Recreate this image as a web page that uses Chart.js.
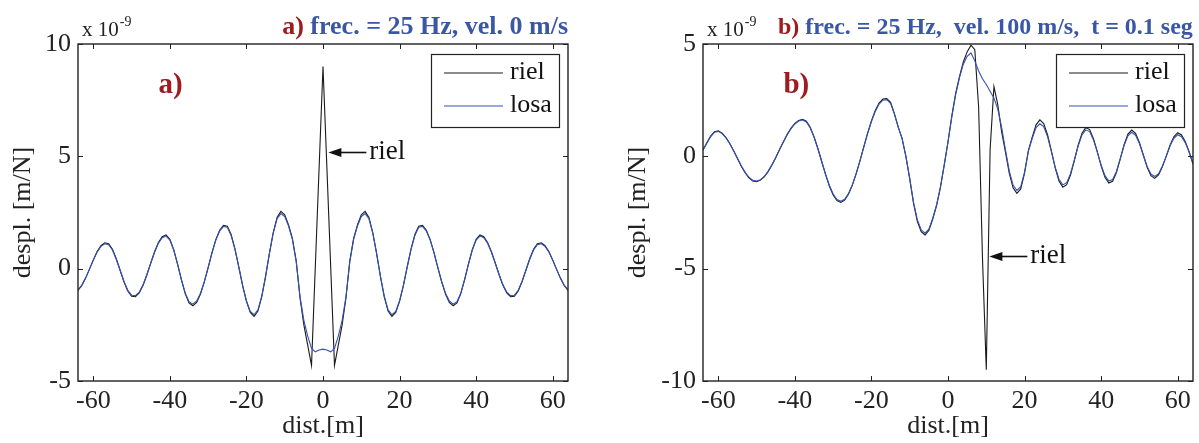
<!DOCTYPE html>
<html>
<head>
<meta charset="utf-8">
<script src="https://cdn.jsdelivr.net/npm/chart.js@4"></script>
<style>
  body { margin: 0; background: #fff; }
  .panel { position: absolute; top: 0; }
</style>
</head>
<body>
<div class="panel" style="left:0"><canvas id="chartA" width="600" height="443"></canvas></div>
<div class="panel" style="left:600px"><canvas id="chartB" width="599" height="443"></canvas></div>
<script>
"use strict";

// distance along the track [m]
const dist = [
  -64, -63, -62, -61, -60, -59, -58, -57, -56, -55,
  -54, -53, -52, -51, -50, -49, -48, -47, -46, -45,
  -44, -43, -42, -41, -40, -39, -38, -37, -36, -35,
  -34, -33, -32, -31, -30, -29, -28, -27, -26, -25,
  -24, -23, -22, -21, -20, -19, -18, -17, -16, -15,
  -14, -13, -12, -11, -10, -9, -8, -7, -6, -5,
  -4, -3, -2, -1, 0, 1, 2, 3, 4, 5,
  6, 7, 8, 9, 10, 11, 12, 13, 14, 15,
  16, 17, 18, 19, 20, 21, 22, 23, 24, 25,
  26, 27, 28, 29, 30, 31, 32, 33, 34, 35,
  36, 37, 38, 39, 40, 41, 42, 43, 44, 45,
  46, 47, 48, 49, 50, 51, 52, 53, 54, 55,
  56, 57, 58, 59, 60, 61, 62, 63, 64
];

// a) 25 Hz, 0 m/s  (x 1e-9 m/N)
const rielA = [
  -0.97, -0.75, -0.42, -0.02, 0.39, 0.76, 1.02, 1.15, 1.11, 0.86,
  0.44, -0.07, -0.58, -0.99, -1.23, -1.25, -1.08, -0.74, -0.27, 0.25,
  0.75, 1.16, 1.42, 1.5, 1.31, 0.85, 0.21, -0.49, -1.11, -1.52,
  -1.65, -1.5, -1.13, -0.59, 0.05, 0.71, 1.29, 1.71, 1.93, 1.89,
  1.52, 0.88, 0.08, -0.75, -1.46, -1.95, -2.12, -1.89, -1.26, -0.35,
  0.68, 1.61, 2.28, 2.55, 2.4, 1.95, 1.35, 0.35, -1.3, -2.5,
  -3.4, -4.3, null, null, 9.0, null, null, -4.3, -3.4, -2.5,
  -1.3, 0.35, 1.35, 1.95, 2.4, 2.55, 2.28, 1.61, 0.68, -0.35,
  -1.26, -1.89, -2.12, -1.95, -1.46, -0.75, 0.08, 0.88, 1.52, 1.89,
  1.93, 1.71, 1.29, 0.71, 0.05, -0.59, -1.13, -1.5, -1.65, -1.52,
  -1.11, -0.49, 0.21, 0.85, 1.31, 1.5, 1.42, 1.16, 0.75, 0.25,
  -0.27, -0.74, -1.08, -1.25, -1.23, -0.99, -0.58, -0.07, 0.44, 0.86,
  1.11, 1.15, 1.02, 0.76, 0.39, -0.02, -0.42, -0.75, -0.97
];
const losaA = [
  -0.94, -0.73, -0.41, -0.02, 0.38, 0.74, 0.99, 1.11, 1.07, 0.83,
  0.42, -0.07, -0.56, -0.96, -1.18, -1.2, -1.04, -0.72, -0.26, 0.24,
  0.73, 1.13, 1.38, 1.45, 1.27, 0.83, 0.2, -0.48, -1.08, -1.47,
  -1.58, -1.44, -1.09, -0.57, 0.05, 0.7, 1.27, 1.67, 1.88, 1.84,
  1.48, 0.86, 0.08, -0.74, -1.43, -1.9, -2.05, -1.83, -1.22, -0.33,
  0.68, 1.58, 2.22, 2.45, 2.32, 1.9, 1.3, 0.3, -1.25, -2.3,
  -3.0, -3.55, -3.7, -3.62, -3.58, -3.62, -3.7, -3.55, -3.0, -2.3,
  -1.25, 0.3, 1.3, 1.9, 2.32, 2.45, 2.22, 1.58, 0.68, -0.33,
  -1.22, -1.83, -2.05, -1.9, -1.43, -0.74, 0.08, 0.86, 1.48, 1.84,
  1.88, 1.67, 1.27, 0.7, 0.05, -0.57, -1.09, -1.44, -1.58, -1.47,
  -1.08, -0.48, 0.2, 0.83, 1.27, 1.45, 1.38, 1.13, 0.73, 0.24,
  -0.26, -0.72, -1.04, -1.2, -1.18, -0.96, -0.56, -0.07, 0.42, 0.83,
  1.07, 1.11, 0.99, 0.74, 0.38, -0.02, -0.41, -0.73, -0.94
];

// b) 25 Hz, 100 m/s, t = 0.1 s
const rielB = [
  0.28, 0.6, 0.9, 1.1, 1.14, 1.03, 0.84, 0.57, 0.25, -0.1,
  -0.44, -0.73, -0.96, -1.1, -1.13, -1.06, -0.91, -0.68, -0.39, -0.06,
  0.3, 0.65, 0.98, 1.26, 1.47, 1.6, 1.65, 1.56, 1.29, 0.87,
  0.35, -0.23, -0.8, -1.32, -1.72, -1.97, -2.05, -1.95, -1.69, -1.29,
  -0.78, -0.2, 0.42, 1.03, 1.58, 2.04, 2.37, 2.55, 2.57, 2.4,
  1.9, 1.3, 0.8, 0.0, -1.0, -2.1, -2.9, -3.35, -3.5, -3.3,
  -2.8, -2.2, -1.4, -0.4, 0.65, 1.8, 2.8, 3.55, 4.2, 4.65,
  4.95, 4.75, 2.2, -4.5, -9.5, 0.3, 3.1, 2.3, 1.1, 0.2,
  -0.75, -1.4, -1.65, -1.45, -0.75, 0.25, 0.85, 1.4, 1.62, 1.46,
  0.96, 0.24, -0.51, -1.1, -1.37, -1.26, -0.83, -0.19, 0.5, 1.03,
  1.28, 1.19, 0.79, 0.21, -0.42, -0.93, -1.19, -1.11, -0.72, -0.11,
  0.52, 0.99, 1.17, 1.02, 0.62, 0.07, -0.48, -0.86, -0.98, -0.83,
  -0.47, 0.0, 0.5, 0.87, 1.05, 0.95, 0.65, 0.2, -0.35
];
const losaB = [
  0.28, 0.58, 0.88, 1.07, 1.11, 1.01, 0.82, 0.56, 0.25, -0.09,
  -0.42, -0.71, -0.93, -1.07, -1.1, -1.04, -0.9, -0.67, -0.38, -0.05,
  0.3, 0.64, 0.96, 1.23, 1.44, 1.57, 1.62, 1.53, 1.27, 0.86,
  0.35, -0.22, -0.78, -1.29, -1.68, -1.92, -2.0, -1.91, -1.66, -1.27,
  -0.77, -0.2, 0.41, 1.01, 1.55, 2.0, 2.33, 2.5, 2.52, 2.36,
  1.88, 1.3, 0.8, 0.0, -0.98, -2.05, -2.83, -3.27, -3.42, -3.24,
  -2.76, -2.17, -1.38, -0.4, 0.63, 1.76, 2.75, 3.5, 4.1, 4.45,
  4.6, 4.25, 3.8, 3.45, 3.2, 2.9, 2.6, 2.1, 1.3, 0.3,
  -0.65, -1.28, -1.52, -1.35, -0.7, 0.23, 0.8, 1.28, 1.45, 1.32,
  0.88, 0.22, -0.48, -1.02, -1.27, -1.17, -0.77, -0.17, 0.46, 0.95,
  1.18, 1.1, 0.73, 0.19, -0.39, -0.86, -1.1, -1.03, -0.67, -0.1,
  0.48, 0.91, 1.07, 0.94, 0.57, 0.06, -0.44, -0.79, -0.9, -0.77,
  -0.43, 0.0, 0.46, 0.8, 0.96, 0.87, 0.6, 0.18, -0.32
];

const xRange = [-64, 64];
const yRangeA = [-5, 10];
const yRangeB = [-10, 5];

const SERIF = "'Liberation Serif', 'Times New Roman', serif";
const RED = "#9e1b20";
const BLUE = "#3a56a6";

// MATLAB-like frame, inner ticks, boxed legend and the annotations
const matlabLook = {
  id: "matlabLook",
  afterDraw(chart, args, o) {
    const ctx = chart.ctx;
    const a = chart.chartArea;
    const xs = chart.scales.x;
    const ys = chart.scales.y;
    ctx.save();

    // inner ticks on all four sides
    ctx.strokeStyle = "#222";
    ctx.lineWidth = 1;
    ctx.beginPath();
    xs.ticks.forEach(t => {
      const px = Math.round(xs.getPixelForValue(t.value)) + 0.5;
      ctx.moveTo(px, a.bottom); ctx.lineTo(px, a.bottom - 5);
      ctx.moveTo(px, a.top); ctx.lineTo(px, a.top + 5);
    });
    ys.ticks.forEach(t => {
      const py = Math.round(ys.getPixelForValue(t.value)) + 0.5;
      ctx.moveTo(a.left, py); ctx.lineTo(a.left + 5, py);
      ctx.moveTo(a.right, py); ctx.lineTo(a.right - 5, py);
    });
    ctx.stroke();
    ctx.lineWidth = 1.4;
    ctx.strokeRect(a.left, a.top, a.right - a.left, a.bottom - a.top);

    // legend box
    const bx = a.right - 137, by = a.top + 10, bw = 128, bh = 73;
    ctx.fillStyle = "#fff";
    ctx.fillRect(bx, by, bw, bh);
    ctx.lineWidth = 1.2;
    ctx.strokeStyle = "#222";
    ctx.strokeRect(bx + 0.5, by + 0.5, bw, bh);
    const rows = [chart.data.datasets[1], chart.data.datasets[0]];
    ctx.font = "26px " + SERIF;
    ctx.textBaseline = "middle";
    rows.forEach((ds, i) => {
      const ly = by + 19 + i * 33;
      ctx.strokeStyle = ds.borderColor;
      ctx.lineWidth = 1.2;
      ctx.beginPath();
      ctx.moveTo(bx + 13, ly); ctx.lineTo(bx + 72, ly);
      ctx.stroke();
      ctx.fillStyle = "#111";
      ctx.fillText(ds.label, bx + 79, ly - 1);
    });

    // header above the frame
    ctx.font = "bold " + o.headerSize + "px " + SERIF;
    ctx.textBaseline = "alphabetic";
    let total = 0;
    o.header.forEach(p => { total += ctx.measureText(p.text).width; });
    let hx = o.headerAlign === "right" ? a.right - total : a.left + o.headerOffset;
    o.header.forEach(p => {
      ctx.fillStyle = p.color;
      ctx.fillText(p.text, hx, 34);
      hx += ctx.measureText(p.text).width;
    });

    // exponent label
    ctx.fillStyle = "#222";
    ctx.font = "21px " + SERIF;
    ctx.fillText("x 10", a.left + 4, 36);
    const ew = ctx.measureText("x 10").width;
    ctx.font = "14px " + SERIF;
    ctx.fillText("-9", a.left + 5 + ew, 26);

    // panel letter
    ctx.fillStyle = RED;
    ctx.font = "bold 29px " + SERIF;
    ctx.fillText(o.letter.text, xs.getPixelForValue(o.letter.x), ys.getPixelForValue(o.letter.y));

    // arrow pointing at the rail curve
    const tx = xs.getPixelForValue(o.arrow.x);
    const ty = Math.round(ys.getPixelForValue(o.arrow.y)) + 0.5;
    ctx.strokeStyle = "#111";
    ctx.fillStyle = "#111";
    ctx.lineWidth = 1.6;
    ctx.beginPath();
    ctx.moveTo(tx + 10, ty); ctx.lineTo(tx + 38, ty);
    ctx.stroke();
    ctx.beginPath();
    ctx.moveTo(tx, ty); ctx.lineTo(tx + 13, ty - 4.5); ctx.lineTo(tx + 13, ty + 4.5);
    ctx.closePath();
    ctx.fill();
    ctx.font = "27px " + SERIF;
    ctx.textBaseline = "middle";
    ctx.fillText(o.arrow.text, tx + 41, ty - 1);

    ctx.restore();
  }
};

function makePanel(canvasId, riel, losa, yRange, axisWidth, rightPad, titlePad, look) {
  const ctx = document.getElementById(canvasId).getContext("2d");
  return new Chart(ctx, {
    type: "line",
    data: {
      datasets: [
        {
          label: "losa",
          data: losa.map((v, i) => ({ x: dist[i], y: v })),
          borderColor: "#3352b5",
          borderWidth: 1.1,
          pointRadius: 0,
          tension: 0,
          order: 1
        },
        {
          label: "riel",
          data: riel.map((v, i) => ({ x: dist[i], y: v })),
          borderColor: "#1a1a1a",
          borderWidth: 1.1,
          pointRadius: 0,
          tension: 0,
          spanGaps: true,
          order: 2
        }
      ]
    },
    options: {
      responsive: false,
      animation: false,
      devicePixelRatio: 1,
      events: [],
      layout: { padding: { top: 44, right: rightPad, bottom: 0, left: 0 } },
      plugins: {
        legend: { display: false },
        tooltip: { enabled: false },
        matlabLook: look
      },
      scales: {
        x: {
          type: "linear",
          min: xRange[0],
          max: xRange[1],
          grid: { display: false, drawTicks: false },
          border: { display: false },
          ticks: {
            stepSize: 20,
            includeBounds: false,
            maxRotation: 0,
            padding: 5,
            color: "#222",
            font: { family: SERIF, size: 26 }
          },
          title: {
            display: true,
            text: "dist.[m]",
            color: "#222",
            padding: { top: 0, bottom: 1 },
            font: { family: SERIF, size: 26 }
          },
          afterFit: s => { s.height = 62; }
        },
        y: {
          type: "linear",
          min: yRange[0],
          max: yRange[1],
          grid: { display: false, drawTicks: false },
          border: { display: false },
          ticks: {
            stepSize: 5,
            padding: 7,
            color: "#222",
            font: { family: SERIF, size: 26 }
          },
          title: {
            display: true,
            text: "despl. [m/N]",
            color: "#222",
            padding: { top: titlePad, bottom: 0 },
            font: { family: SERIF, size: 26 }
          },
          afterFit: s => { s.width = axisWidth; }
        }
      }
    },
    plugins: [matlabLook]
  });
}

makePanel("chartA", rielA, losaA, yRangeA, 78, 32, 8, {
  header: [
    { text: "a) ", color: RED },
    { text: "frec. = 25 Hz, vel. 0 m/s", color: BLUE }
  ],
  headerAlign: "right",
  headerOffset: 0,
  headerSize: 26,
  letter: { text: "a)", x: -43, y: 7.8 },
  arrow: { text: "riel", x: 1.4, y: 5.2 }
});

makePanel("chartB", rielB, losaB, yRangeB, 103, 6, 23, {
  header: [
    { text: "b) ", color: RED },
    { text: "frec. = 25 Hz,  vel. 100 m/s,  t = 0.1 seg", color: BLUE }
  ],
  headerAlign: "left",
  headerOffset: 75,
  headerSize: 24,
  letter: { text: "b)", x: -43, y: 2.8 },
  arrow: { text: "riel", x: 10.8, y: -4.45 }
});
</script>
</body>
</html>
